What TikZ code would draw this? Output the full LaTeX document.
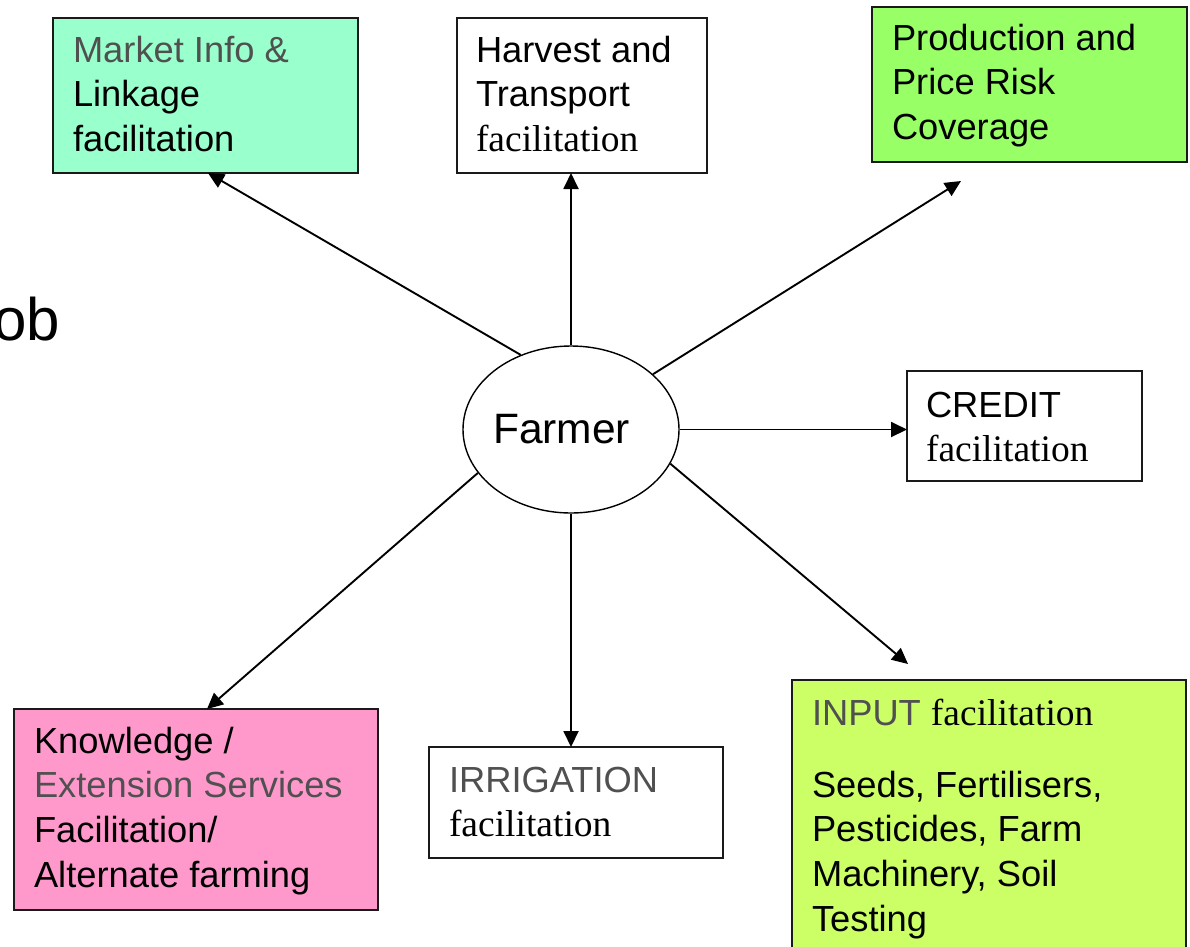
\documentclass[tikz,border=0pt]{standalone}
\usepackage{fontspec}
\setmainfont{Liberation Sans}
\newfontfamily\serf{Liberation Serif}
\usetikzlibrary{arrows.meta,shapes.geometric}
\definecolor{mktfill}{HTML}{99FFCC}
\definecolor{prdfill}{HTML}{99FF66}
\definecolor{knwfill}{HTML}{FF99CC}
\definecolor{inpfill}{HTML}{CCFF66}
\definecolor{txtgray}{HTML}{505050}
\definecolor{boxline}{HTML}{1A1A1A}
\newcommand{\fac}{{\serf\fontsize{37.5}{44.7}\selectfont facilitation}}
\newcommand{\gr}[1]{\textcolor{txtgray}{#1}}
\begin{document}
\begin{tikzpicture}[x=1pt,y=-1pt,
  box/.style={draw=boxline, line width=1.6pt, anchor=north west, inner sep=0pt, outer sep=0pt},
  txt/.style={anchor=base west, inner sep=0pt, outer sep=0pt, font=\fontsize{36.3}{44.7}\selectfont},
  arr/.style={line width=1.9pt, draw=black, -{Triangle[length=16pt,width=15pt]}}]
\useasboundingbox (0,0) rectangle (1190,946);

% boxes
\node[box, fill=mktfill, minimum width=305pt, minimum height=155pt] (mkt) at (53,18) {};
\node[box, fill=white,   minimum width=250pt, minimum height=155pt] (hrv) at (457,18) {};
\node[box, fill=prdfill, minimum width=315pt, minimum height=155pt] (prd) at (872,7) {};
\node[box, fill=white,   minimum width=235pt, minimum height=110pt] (crd) at (907,371) {};
\node[box, fill=knwfill, minimum width=364pt, minimum height=201pt] (knw) at (14,709) {};
\node[box, fill=white,   minimum width=294pt, minimum height=111pt] (irr) at (429,747) {};
\node[box, fill=inpfill, minimum width=394pt, minimum height=300pt] (inp) at (792,680) {};

% farmer
\node[ellipse, draw=black, line width=1.4pt, minimum width=216pt, minimum height=167pt, inner sep=0pt] (farmer) at (571,429.5) {};
\node[anchor=base west, inner sep=0pt, font=\fontsize{42.5}{50}\selectfont] (farmert) at (493,443) {Farmer};

% partial title text
\node[anchor=base east, inner sep=0pt, font=\fontsize{60}{72}\selectfont] (ob) at (60,340) {ob};

% texts
\node[txt] (mktt) at (73,62) {\vtop{\hbox{\gr{Market Info \&}}\hbox{Linkage}\hbox{facilitation}}};
\node[txt] (hrvt) at (476,62) {\vtop{\hbox{Harvest and}\hbox{Transport}\hbox{\fac}}};
\node[txt] (prdt) at (892,50) {\vtop{\hbox{Production and}\hbox{Price Risk}\hbox{Coverage}}};
\node[txt] (crdt) at (926,417) {\vtop{\hbox{CREDIT}\hbox{\fac}}};
\node[txt] (knwt) at (34,753) {\vtop{\hbox{Knowledge /}\hbox{\gr{Extension Services}}\hbox{Facilitation/}\hbox{Alternate farming}}};
\node[txt] (irrt) at (449,792) {\vtop{\hbox{\gr{IRRIGATION}}\hbox{\fac}}};
\node[txt] (inpt) at (812,725) {\gr{INPUT} \fac};
\node[txt] (inpl) at (812,797) {\vtop{\hbox{Seeds, Fertilisers,}\hbox{Pesticides, Farm}\hbox{Machinery, Soil}\hbox{Testing}}};

% connectors
\draw[arr] (farmer.124.2) -- ([xshift=155pt]mkt.south west);
\draw[arr] (farmer.north) -- (farmer.north |- hrv.south);
\draw[arr] (farmer.34.8) -- ([xshift=89pt,yshift=-19pt]prd.south west);
\draw[arr] (farmer.east) -- (farmer.east -| crd.west);
\draw[arr] (farmer.-19.9) -- ([xshift=116pt,yshift=16pt]inp.north west);
\draw[arr] (farmer.south) -- (farmer.south |- irr.north);
\draw[arr] (farmer.205.9) -- ([xshift=193pt]knw.north west);
\end{tikzpicture}
\end{document}
